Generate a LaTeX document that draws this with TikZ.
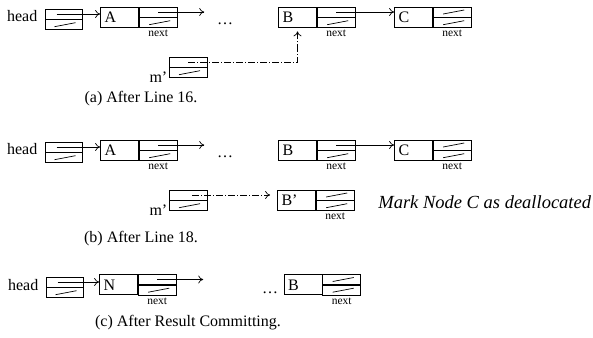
\documentclass[tikz,border=0pt]{standalone}
\usepackage{fontspec}
\setmainfont{Liberation Serif}
\usetikzlibrary{positioning,arrows.meta}

\begin{document}
\begin{tikzpicture}[x=1pt,y=-1pt,>={To[length=5pt,width=8pt]},line width=0.7pt,
    lbl/.style={font=\fontsize{16}{18}\selectfont},
    nxt/.style={font=\fontsize{11.5}{13}\selectfont,inner sep=1pt},
    data/.style={draw,minimum height=20pt,text width=30pt,text height=11pt,text depth=0pt,inner xsep=4pt,inner ysep=0pt,align=left,font=\fontsize{16}{18}\selectfont},
    half/.style={draw,minimum width=38pt,minimum height=10pt,inner sep=0pt},
    nil/.style={path picture={\draw ([shift={(-9,2)}]path picture bounding box.center) -- ++(21,-4);}},
    dashdot/.style={dash pattern=on 7pt off 2pt on 1pt off 2pt}]
\useasboundingbox (0,0) rectangle (593,337);

% (a) after line 16
\node[half,minimum width=37pt]          (ht)    at (63.5,14)    {};
\node[half,nil,minimum width=37pt]      (hb)    [below=0pt of ht] {};
\node[lbl,anchor=base east,inner xsep=0pt] (hl) at ([xshift=-7pt,yshift=-2.5pt]ht.south west) {head};
\node[data]                             (A)     at (119.5,17)   {A};
\node[half,anchor=north west]           (At)    at (A.north east) {};
\node[half,nil]                         (Ab)    [below=0pt of At] {};
\node[nxt]                              (An)    [below=1pt of Ab] {next};
\coordinate[right=46pt of At.center]    (Ae);
\node[lbl]                              (dots)  at (225,24)     {\ldots};
\node[data]                             (B)     at (297.5,17)   {B};
\node[half,anchor=north west]           (Bt)    at (B.north east) {};
\node[half,nil]                         (Bb)    [below=0pt of Bt] {};
\node[nxt]                              (Bn)    [below=1pt of Bb] {next};
\node[data]                             (C)     at (413.5,17)   {C};
\node[half,nil,anchor=north west]       (Ct)    at (C.north east) {};
\node[half,nil]                         (Cb)    [below=0pt of Ct] {};
\node[nxt]                              (Cn)    [below=1pt of Cb] {next};
\node[half]                             (mt)    at (188,62)     {};
\node[half,nil]                         (mb)    [below=0pt of mt] {};
\node[lbl,anchor=base east,inner xsep=1pt] (ml) at ([yshift=-4pt]mb.south west) {m’};
\node[lbl]                              (capa)  at (141,99)     {(a) After Line 16.};

\draw[->] ([xshift=-7pt]ht.center) -- (ht.center -| A.west);
\draw[->] (At.center) -- (Ae);
\draw[->] (Bt.center) -- (Bt.center -| C.west);
\draw[->,dashdot,shorten >=4pt] (mt.center) -| (B.south);

% (b) after line 18
\node[half,minimum width=37pt]          (ht2)   at (63.5,147)   {};
\node[half,nil,minimum width=37pt]      (hb2)   [below=0pt of ht2] {};
\node[lbl,anchor=base east,inner xsep=0pt] (hl2) at ([xshift=-7pt,yshift=-2.5pt]ht2.south west) {head};
\node[data]                             (A2)    at (119.5,150)  {A};
\node[half,anchor=north west]           (At2)   at (A2.north east) {};
\node[half,nil]                         (Ab2)   [below=0pt of At2] {};
\node[nxt]                              (An2)   [below=1pt of Ab2] {next};
\coordinate[right=46pt of At2.center]   (Ae2);
\node[lbl]                              (dots2) at (225,157)    {\ldots};
\node[data]                             (B2)    at (297.5,150)  {B};
\node[half,anchor=north west]           (Bt2)   at (B2.north east) {};
\node[half,nil]                         (Bb2)   [below=0pt of Bt2] {};
\node[nxt]                              (Bn2)   [below=1pt of Bb2] {next};
\node[data]                             (C2)    at (413.5,150)  {C};
\node[half,nil,anchor=north west]       (Ct2)   at (C2.north east) {};
\node[half,nil]                         (Cb2)   [below=0pt of Ct2] {};
\node[nxt]                              (Cn2)   [below=1pt of Cb2] {next};
\node[half]                             (mt2)   at (188,195)    {};
\node[half,nil]                         (mb2)   [below=0pt of mt2] {};
\node[lbl,anchor=base east,inner xsep=1pt] (ml2) at ([yshift=-4pt]mb2.south west) {m’};
\node[data]                             (Bp)    at (296.5,200)  {B’};
\node[half,nil,anchor=north west]       (Bpt)   at (Bp.north east) {};
\node[half,nil]                         (Bpb)   [below=0pt of Bpt] {};
\node[nxt]                              (Bpn)   [below=1pt of Bpb] {next};
\node[lbl,font=\fontsize{18.5}{20}\selectfont\itshape,anchor=west,inner xsep=0pt] (mark) at (378,202) {Mark Node C as deallocated};
\node[lbl]                              (capb)  at (141,239)    {(b) After Line 18.};

\draw[->] ([xshift=-7pt]ht2.center) -- (ht2.center -| A2.west);
\draw[->] (At2.center) -- (Ae2);
\draw[->] (Bt2.center) -- (Bt2.center -| C2.west);
\draw[->,dashdot,shorten >=7pt] ([xshift=4pt]mt2.center) -- (mt2.center -| Bp.west);

% (c) after result committing
\node[half,minimum width=37pt]          (ht3)   at (64.5,282)   {};
\node[half,nil,minimum width=37pt]      (hb3)   [below=0pt of ht3] {};
\node[lbl,anchor=base east,inner xsep=0pt] (hl3) at ([xshift=-7pt,yshift=-3.5pt]ht3.south west) {head};
\node[data]                             (N)     at (118.5,284.5) {N};
\node[half,anchor=north west]           (Nt)    at (N.north east) {};
\node[half,nil]                         (Nb)    [below=0pt of Nt] {};
\node[nxt]                              (Nn)    [below=1pt of Nb] {next};
\coordinate[right=46pt of Nt.center]    (Ne);
\node[lbl]                              (dots3) at (270,293)    {\ldots};
\node[data]                             (B3)    at (303,284.5)  {B};
\node[half,nil,anchor=north west]       (Bt3)   at (B3.north east) {};
\node[half,nil]                         (Bb3)   [below=0pt of Bt3] {};
\node[nxt]                              (Bn3)   [below=1pt of Bb3] {next};
\node[lbl]                              (capc)  at (188,323)    {(c) After Result Committing.};

\draw[->] ([xshift=-7pt]ht3.center) -- (ht3.center -| N.west);
\draw[->] (Nt.center) -- (Ne);
\end{tikzpicture}
\end{document}
